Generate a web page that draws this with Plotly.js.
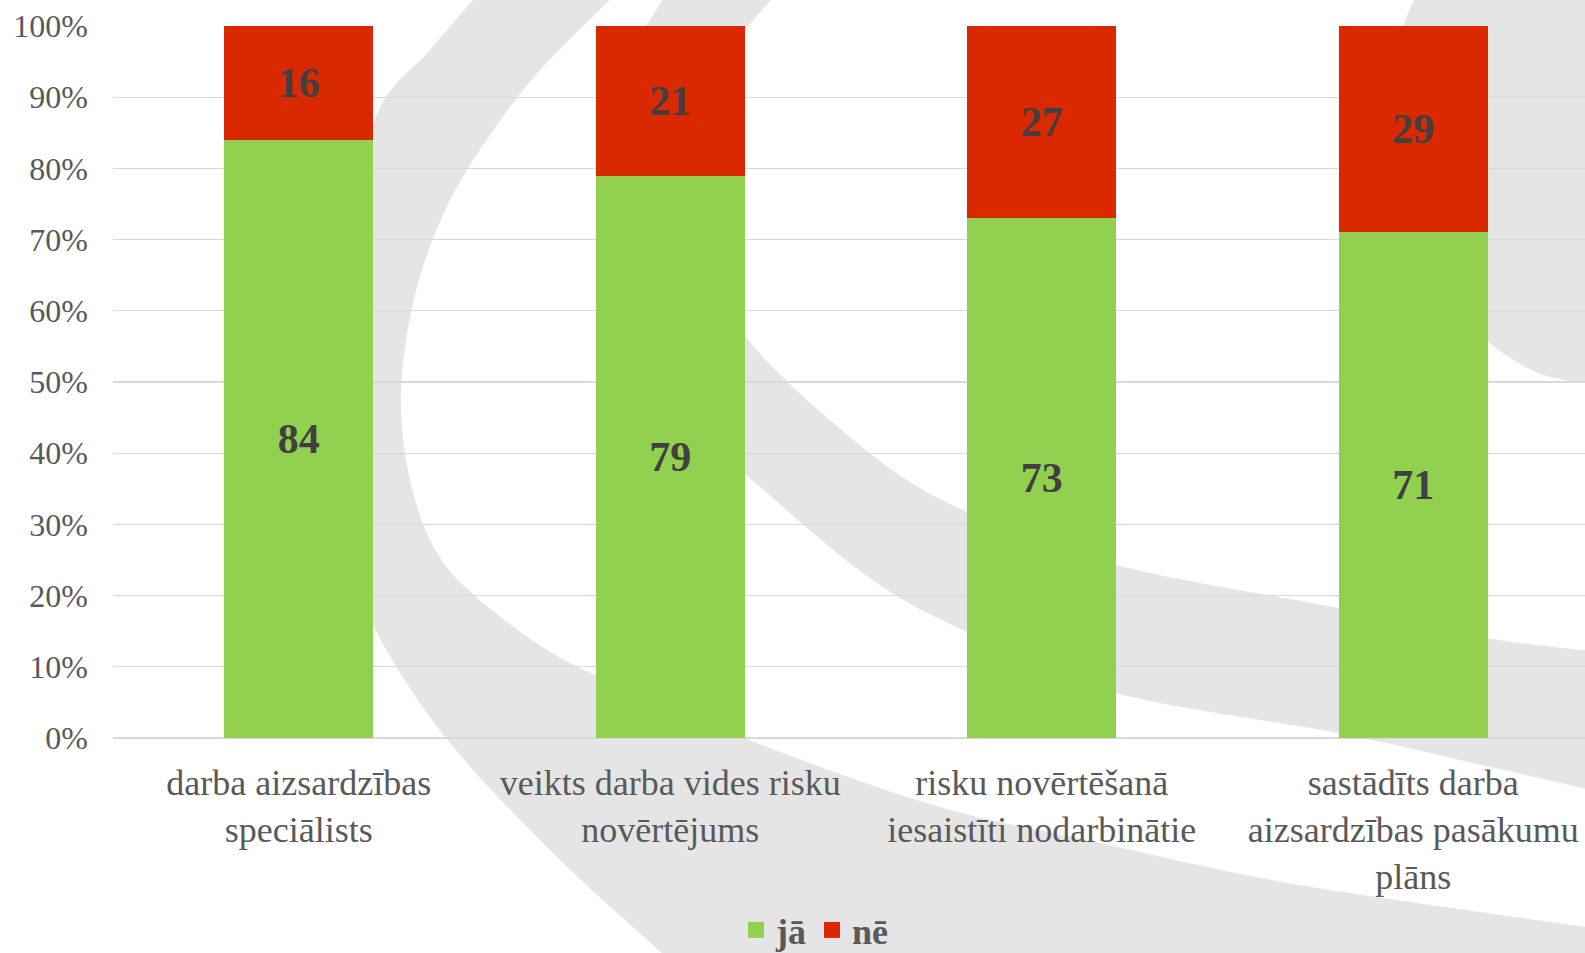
<!DOCTYPE html>
<html>
<head>
<meta charset="utf-8">
<script src="https://cdn.plot.ly/plotly-3.0.1.min.js"></script>
<style>
  html, body { margin: 0; padding: 0; background: #ffffff; }
  #chart { width: 1585px; height: 953px; }
</style>
</head>
<body>
<div id="chart"></div>
<script>
// ---- data ----
const categories = [
  "darba aizsardzības<br>speciālists",
  "veikts darba vides risku<br>novērtējums",
  "risku novērtēšanā<br>iesaistīti nodarbinātie",
  "sastādīts darba<br>aizsardzības pasākumu<br>plāns"
];
const seriesNames = ["jā", "nē"];
const yesValues = [84, 79, 73, 71];
const noValues = [16, 21, 27, 29];
const yTickValues = [0, 10, 20, 30, 40, 50, 60, 70, 80, 90, 100];
const yTickLabels = ["0%", "10%", "20%", "30%", "40%", "50%", "60%", "70%", "80%", "90%", "100%"];

// ---- style ----
const GREEN = "#92D050";
const RED = "#DA2900";
const SERIF = "'Liberation Serif', 'Times New Roman', serif";
const W = 1585, H = 953;
const M = { l: 113, r: 0, t: 26, b: 215, autoexpand: false };
const plotW = W - M.l - M.r, plotH = H - M.t - M.b;

// ---- decorative watermark (background swooshes) ----
function smooth(pts) {
  let d = "";
  for (let i = 0; i < pts.length - 1; i++) {
    const p0 = pts[Math.max(i - 1, 0)], p1 = pts[i], p2 = pts[i + 1], p3 = pts[Math.min(i + 2, pts.length - 1)];
    const c1 = [p1[0] + (p2[0] - p0[0]) / 6, p1[1] + (p2[1] - p0[1]) / 6];
    const c2 = [p2[0] - (p3[0] - p1[0]) / 6, p2[1] - (p3[1] - p1[1]) / 6];
    d += " C" + c1.map(v => v.toFixed(1)).join(",") + " " + c2.map(v => v.toFixed(1)).join(",") + " " + p2.join(",");
  }
  return d;
}
function band(outer, corners, inner) {
  let d = "M" + outer[0].join(",") + smooth(outer);
  corners.forEach(c => { d += " L" + c.join(","); });
  d += " L" + inner[0].join(",") + smooth(inner) + " Z";
  return d;
}
const bandA = band(
  [[480,-8],[430,50],[379,110],[350,230],[338,400],[348,520],[366,610],[439,729],[551,851],[672,962]],
  [[1600,962]],
  [[1600,929],[1300,885],[1100,843],[933,805],[744,738],[595,675],[529,638],[462,584],[430,540],[410,480],[401,410],[406,340],[422,270],[450,200],[490,135],[540,70],[618,-8]]
);
const bandB = band(
  [[668,-8],[645,28],[622,70],[612,150],[614,280],[650,390],[744,473],[867,576],[967,632],[1116,693],[1338,733],[1486,766],[1600,792]],
  [],
  [[1600,652],[1486,638],[1338,608],[1116,565],[967,512],[867,451],[744,334],[716,240],[712,130],[733,50],[778,-8]]
);
const bandC = "M1418,-8" + smooth([[1418,-8],[1400,40],[1388,150],[1410,270],[1486,340],[1541,374],[1600,384]]) + " L1600,-8 Z";
const svg = '<svg xmlns="http://www.w3.org/2000/svg" width="' + W + '" height="' + H + '" viewBox="0 0 ' + W + ' ' + H + '">' +
  '<g fill="#E5E5E5"><path d="' + bandA + '"/><path d="' + bandB + '"/><path d="' + bandC + '"/></g></svg>';
const watermark = "data:image/svg+xml;charset=utf-8," + encodeURIComponent(svg);

// ---- traces ----
const labelFont = { family: SERIF, size: 42, color: "#404040", weight: "bold" };
const traces = [
  {
    type: "bar", name: seriesNames[0], x: categories, y: yesValues,
    marker: { color: GREEN, line: { width: 0 } },
    text: yesValues.map(String), textposition: "inside", insidetextanchor: "middle",
    textfont: labelFont, constraintext: "none", showlegend: false, hoverinfo: "skip"
  },
  {
    type: "bar", name: seriesNames[1], x: categories, y: noValues,
    marker: { color: RED, line: { width: 0 } },
    text: noValues.map(String), textposition: "inside", insidetextanchor: "middle",
    textfont: labelFont, constraintext: "none", showlegend: false, hoverinfo: "skip"
  },
  // legend entries
  { type: "scatter", mode: "markers", name: seriesNames[0], x: [null], y: [null],
    marker: { symbol: "square", size: 19, color: GREEN }, hoverinfo: "skip" },
  { type: "scatter", mode: "markers", name: seriesNames[1], x: [null], y: [null],
    marker: { symbol: "square", size: 19, color: RED }, hoverinfo: "skip" }
];

const layout = {
  width: W, height: H,
  margin: M,
  paper_bgcolor: "#ffffff",
  plot_bgcolor: "rgba(0,0,0,0)",
  barmode: "stack",
  bargap: 0.6,
  showlegend: true,
  legend: {
    orientation: "h",
    x: (815 - M.l) / plotW, xanchor: "center",
    y: (M.t + plotH - 930) / plotH, yanchor: "middle",
    font: { family: SERIF, size: 36, color: "#595959", weight: "bold" },
    bgcolor: "rgba(0,0,0,0)",
    itemsizing: "trace",
    traceorder: "normal"
  },
  xaxis: {
    type: "category",
    range: [-0.5, -0.5 + plotW / 371.5],
    showgrid: false, zeroline: false, showline: false,
    ticks: "", ticklabelstandoff: 20,
    tickfont: { family: SERIF, size: 36, color: "#595959" },
    fixedrange: true
  },
  yaxis: {
    range: [0, 100],
    tickvals: yTickValues, ticktext: yTickLabels,
    showgrid: true, gridcolor: "#D9D9D9", gridwidth: 1.3,
    zeroline: true, zerolinecolor: "#D9D9D9", zerolinewidth: 1.3,
    showline: false, ticks: "", ticklabelstandoff: 24,
    tickfont: { family: SERIF, size: 32, color: "#595959" },
    fixedrange: true
  },
  images: [{
    source: watermark, xref: "paper", yref: "paper",
    x: -M.l / plotW, y: (plotH + M.t) / plotH,
    sizex: W / plotW, sizey: H / plotH,
    xanchor: "left", yanchor: "top", sizing: "stretch", layer: "below", opacity: 1
  }]
};

Plotly.newPlot("chart", traces, layout, { staticPlot: true, displayModeBar: false });
</script>
</body>
</html>
